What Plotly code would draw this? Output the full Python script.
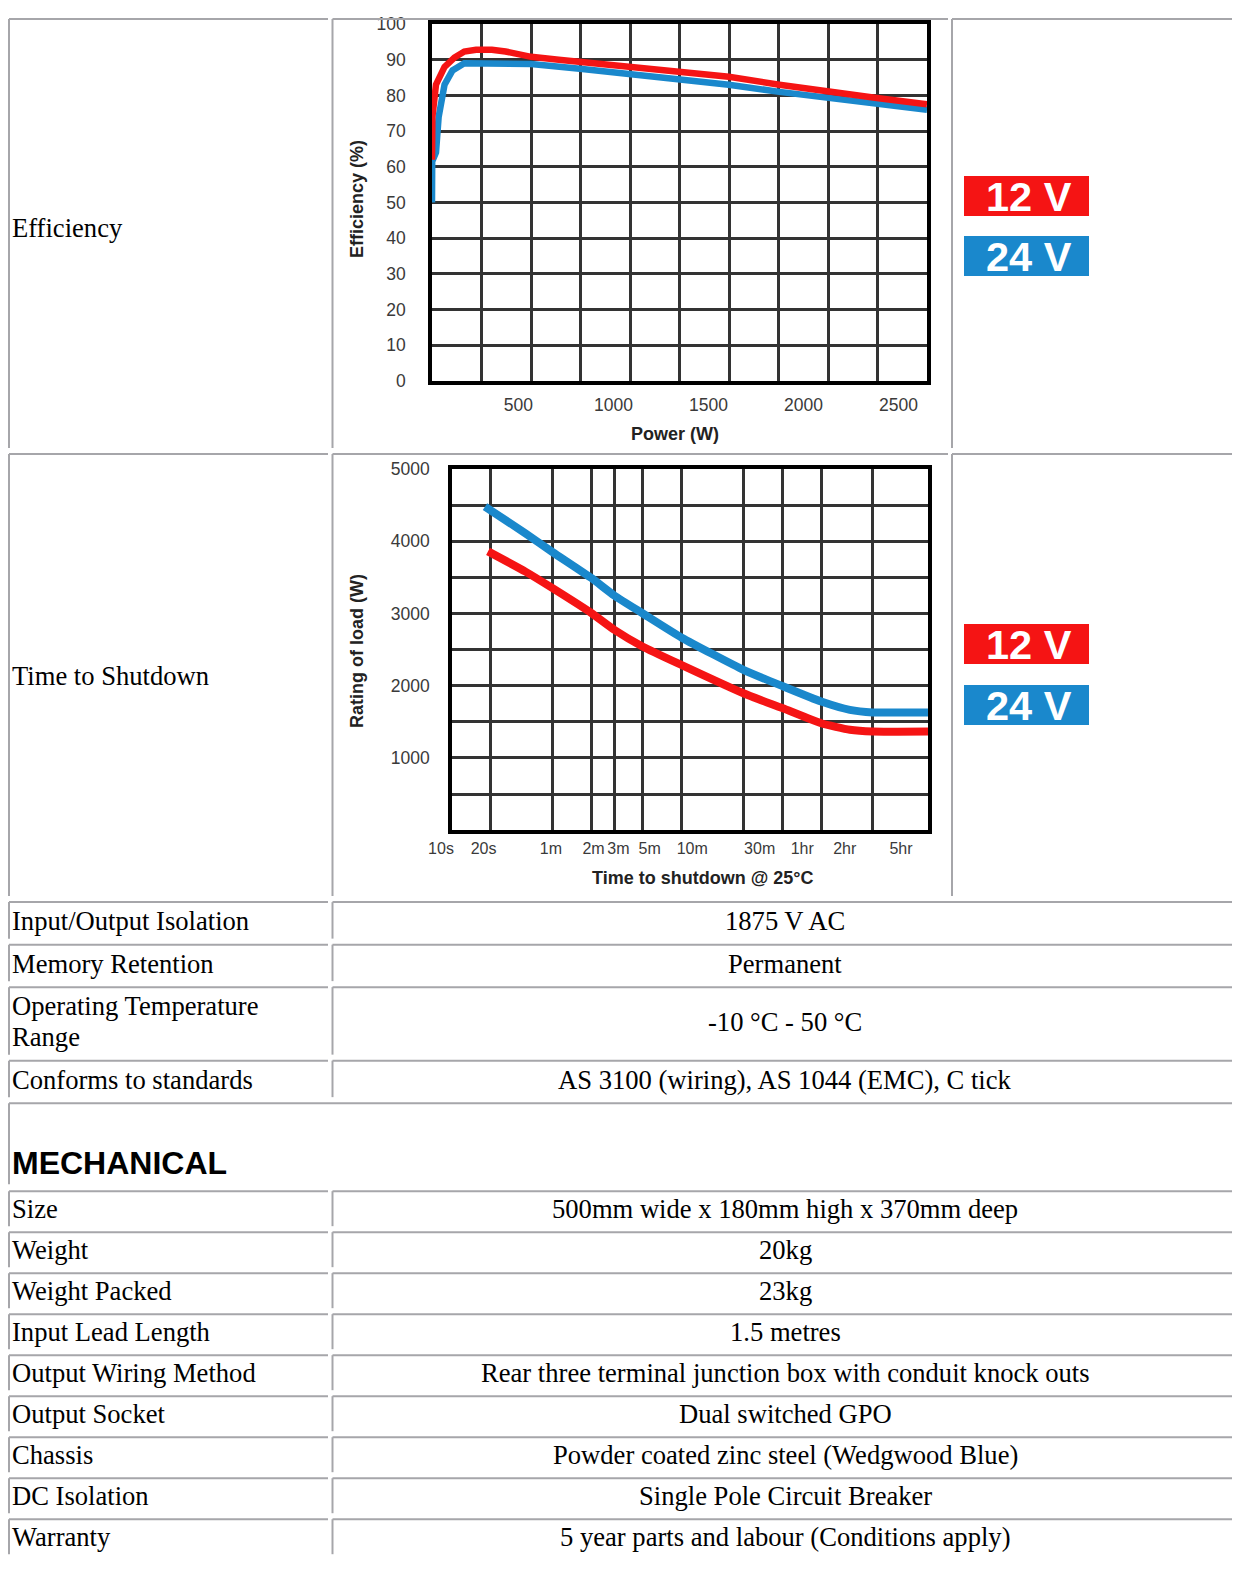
import math
import plotly.graph_objects as go

# Page is 1240x1570; the browser keeps its body margin around the figure.
PAGE_W, PAGE_H = 1240, 1570
OFF = 8
W, H = PAGE_W - 2 * OFF, PAGE_H - 2 * OFF
# measured vertical placement of the figure inside the photographed page
DY, SY = 9.1, 0.987


def px(x):
    return (x - OFF) / W


def py(y):
    nominal = (y - DY) / SY
    return min(1 - (nominal - OFF) / H, 1 - 1.0 / H)


# ---------------- data ----------------
# Efficiency vs power
eff_power_12v = [45, 47, 66, 111, 163, 215, 277, 360, 432, 567, 712, 836, 1006, 1096, 1344, 1607, 1873, 2138, 2386, 2650]
eff_12v = [62, 74, 83, 88, 90.6, 92.3, 92.8, 92.8, 92.3, 90.8, 90.0, 89.3, 88.4, 87.9, 86.6, 85.2, 83.0, 80.9, 79.3, 77.5]
eff_power_24v = [45, 46, 66, 80, 111, 153, 215, 400, 567, 836, 1096, 1344, 1607, 1873, 2138, 2386, 2650]
eff_24v = [50, 61.5, 64, 74, 83, 87, 89, 89, 88.8, 87.4, 86, 84.7, 83, 81, 79.4, 77.6, 76]
power_ticks = [500, 1000, 1500, 2000, 2500]
eff_ticks = [0, 10, 20, 30, 40, 50, 60, 70, 80, 90, 100]

# Time to shutdown (seconds) vs load rating (W)
shut_time_12v = [19, 37, 60, 120, 180, 300, 600, 1800, 3600, 7200, 12000, 18000, 48300]
shut_load_12v = [3860, 3580, 3350, 3005, 2775, 2540, 2285, 1895, 1690, 1480, 1390, 1365, 1365]
shut_time_24v = [18, 37, 60, 120, 180, 300, 600, 1800, 3600, 7200, 12000, 18000, 48300]
shut_load_24v = [4480, 4110, 3850, 3490, 3250, 3000, 2665, 2220, 1995, 1780, 1665, 1630, 1630]
time_tick_seconds = [10, 20, 60, 120, 180, 300, 600, 1800, 3600, 7200, 18000]
time_tick_labels = ["10s", "20s", "1m", "2m", "3m", "5m", "10m", "30m", "1hr", "2hr", "5hr"]
load_ticks = [1000, 2000, 3000, 4000, 5000]

series_names = ["12 V", "24 V"]

# Table text
chart_row_labels = ["Efficiency", "Time to Shutdown"]
spec_labels = ["Input/Output Isolation", "Memory Retention", "Operating Temperature<br>Range", "Conforms to standards"]
spec_values = ["1875 V AC", "Permanent", "-10 °C - 50 °C", "AS 3100 (wiring), AS 1044 (EMC), C tick"]
section_title = "MECHANICAL"
mech_labels = ["Size", "Weight", "Weight Packed", "Input Lead Length", "Output Wiring Method",
               "Output Socket", "Chassis", "DC Isolation", "Warranty"]
mech_values = ["500mm wide x 180mm high x 370mm deep", "20kg", "23kg", "1.5 metres",
               "Rear three terminal junction box with conduit knock outs", "Dual switched GPO",
               "Powder coated zinc steel (Wedgwood Blue)", "Single Pole Circuit Breaker",
               "5 year parts and labour (Conditions apply)"]

# ---------------- styles ----------------
RED = "#f51414"
BLUE = "#1a88cc"
GRID = "#333333"
BORDER = "#a6a6aa"
SERIF = "Liberation Serif"
SANS = "Liberation Sans"
TICKFONT = dict(family=SANS, size=17.5, color="#3a3a3a")
TIMEFONT = dict(family=SANS, size=16, color="#3a3a3a")
TITLEFONT = dict(family=SANS, size=18, color="#222222")

fig = go.Figure()
# Efficiency chart
fig.add_trace(go.Scatter(x=eff_power_24v, y=eff_24v, mode="lines", name=series_names[1],
                         line=dict(color=BLUE, width=6.5), xaxis="x", yaxis="y", showlegend=False))
fig.add_trace(go.Scatter(x=eff_power_12v, y=eff_12v, mode="lines", name=series_names[0],
                         line=dict(color=RED, width=6.5), xaxis="x", yaxis="y", showlegend=False))
# Shutdown chart
fig.add_trace(go.Scatter(x=shut_time_24v, y=shut_load_24v, mode="lines", name=series_names[1],
                         line=dict(color=BLUE, width=8, shape="spline", smoothing=0.5),
                         xaxis="x2", yaxis="y2", showlegend=False))
fig.add_trace(go.Scatter(x=shut_time_12v, y=shut_load_12v, mode="lines", name=series_names[0],
                         line=dict(color=RED, width=8, shape="spline", smoothing=0.5),
                         xaxis="x2", yaxis="y2", showlegend=False))
# empty trace that carries the printed time-label axis of the shutdown chart
fig.add_trace(go.Scatter(x=[], y=[], mode="lines", xaxis="x3", yaxis="y3", showlegend=False,
                         hoverinfo="skip"))

frame = dict(showline=True, mirror=True, linecolor="black", linewidth=3.5, zeroline=False,
             tickfont=TICKFONT, ticks="", fixedrange=True, tickangle=0)

x1_min, x1_max = 45, 2650
# time axis: the grid spans 10 s .. ~13.4 h, the printed labels sit on a slightly wider log scale
grid_range = [1.0, 4.684]
lab_left_px, lab_right_px = 425, 928
lab_px_per_decade = 141.3
lab_first_px = 441
lab_range = [math.log10(time_tick_seconds[0]) - (lab_first_px - lab_left_px) / lab_px_per_decade]
lab_range.append(lab_range[0] + (lab_right_px - lab_left_px) / lab_px_per_decade)

fig.update_layout(
    xaxis=dict(domain=[px(432), px(927)], range=[x1_min, x1_max], tickmode="array", tickvals=power_ticks,
               showgrid=False, anchor="y", ticklabelstandoff=5,
               minor=dict(tickmode="linear", tick0=x1_min, dtick=(x1_max - x1_min) / 10,
                          showgrid=True, gridcolor=GRID, gridwidth=2.5, ticks=""),
               **frame),
    yaxis=dict(domain=[py(380), py(23)], range=[0, 100], tickmode="array", tickvals=eff_ticks,
               showgrid=True, gridcolor=GRID, gridwidth=2.5, anchor="x", ticklabelstandoff=19, **frame),
    xaxis2=dict(domain=[px(452), px(928)], type="log", range=grid_range, tickmode="array",
                tickvals=time_tick_seconds, showticklabels=False, showgrid=True, gridcolor=GRID,
                gridwidth=2.5, anchor="y2", **frame),
    yaxis2=dict(domain=[py(829), py(468)], range=[0, 5000], tickmode="array", tickvals=load_ticks,
                showgrid=True, gridcolor=GRID, gridwidth=2.5, anchor="x2", ticklabelstandoff=15,
                minor=dict(tickmode="linear", tick0=0, dtick=500, showgrid=True, gridcolor=GRID,
                           gridwidth=2.5, ticks=""),
                **frame),
    xaxis3=dict(domain=[px(lab_left_px), px(lab_right_px)], type="log", range=lab_range, tickmode="array",
                tickvals=time_tick_seconds, ticktext=time_tick_labels, showgrid=False, showline=False,
                zeroline=False, ticks="", tickangle=0, tickfont=TIMEFONT, anchor="y3",
                ticklabelstandoff=7, fixedrange=True),
    yaxis3=dict(domain=[py(829), py(828)], anchor="x3", visible=False, range=[0, 1], fixedrange=True),
)

annotations = []
shapes = []

# axis titles
annotations += [
    dict(text="<b>Efficiency (%)</b>", x=px(357), y=py(198), textangle=-90, font=TITLEFONT),
    dict(text="<b>Power (W)</b>", x=px(675), y=py(433), font=TITLEFONT),
    dict(text="<b>Rating of load (W)</b>", x=px(357), y=py(650), textangle=-90, font=TITLEFONT),
    dict(text="<b>Time to shutdown @ 25°C</b>", x=px(702), y=py(877), font=TITLEFONT),
]

# legend badges next to each chart
badge_centers = [(195, 255), (643, 704)]
for c12, c24 in badge_centers:
    for cy, color, name in [(c12, RED, series_names[0]), (c24, BLUE, series_names[1])]:
        shapes.append(dict(type="rect", xref="paper", yref="paper", x0=px(964), x1=px(1089),
                           y0=py(cy + 20), y1=py(cy - 20), fillcolor=color, line=dict(width=0),
                           layer="above"))
        annotations.append(dict(text="<b>%s</b>" % name, x=px(1029), y=py(cy), 
                                font=dict(family=SANS, size=41.5, color="white")))


def cell(x0, x1, top, bottom):
    x0 = max(x0, OFF + 1)
    shapes.append(dict(type="line", xref="paper", yref="paper", x0=px(x0), x1=px(x1), y0=py(top), y1=py(top),
                       line=dict(color=BORDER, width=2)))
    shapes.append(dict(type="line", xref="paper", yref="paper", x0=px(x0), x1=px(x0), y0=py(top), y1=py(bottom),
                       line=dict(color=BORDER, width=2)))


C1 = (7.5, 328)
C2_chart = (332.5, 948)
C3 = (952, 1238)
C2 = (332.5, 1238)
LABEL_X = 10
VALUE_X = 785
TEXTFONT = dict(family=SERIF, size=26.6, color="black")

# chart rows
chart_tops = [5, 453, 901]
for i, lab in enumerate(chart_row_labels):
    t, nt = chart_tops[i], chart_tops[i + 1]
    for c in (C1, C2_chart, C3):
        cell(c[0], c[1], t, nt - 6)
    annotations.append(dict(text=lab, x=px(LABEL_X), y=py((t + nt) / 2 - 2), xanchor="left", font=TEXTFONT))

# spec rows
ROW = 42.5
LINE = 31
top = 901
for lab, val in zip(spec_labels, spec_values):
    lines = lab.split("<br>")
    h = ROW + LINE * (len(lines) - 1)
    for c in (C1, C2):
        cell(c[0], c[1], top, top + h - 6)
    for k, ln in enumerate(lines):
        annotations.append(dict(text=ln, x=px(LABEL_X), y=py(top + 19 + LINE * k), xanchor="left", font=TEXTFONT))
    annotations.append(dict(text=val, x=px(VALUE_X), y=py(top + 19 + LINE * (len(lines) - 1) / 2), font=TEXTFONT))
    top += h

# section header
top = 1102
cell(7.5, 1238, top, top + 81)
annotations.append(dict(text="<b>%s</b>" % section_title, x=px(LABEL_X), y=py(top + 60), xanchor="left",
                        font=dict(family=SANS, size=32, color="black")))
# mechanical rows: slightly tighter than the reference so the last row stays inside the canvas
top = 1190
MROW = 41.0
for lab, val in zip(mech_labels, mech_values):
    for c in (C1, C2):
        cell(c[0], c[1], top, top + MROW - 6)
    annotations.append(dict(text=lab, x=px(LABEL_X), y=py(top + 18), xanchor="left", font=TEXTFONT))
    annotations.append(dict(text=val, x=px(VALUE_X), y=py(top + 18), font=TEXTFONT))
    top += MROW

for a in annotations:
    a.setdefault("xref", "paper")
    a.setdefault("yref", "paper")
    a.setdefault("showarrow", False)
    a.setdefault("xanchor", "center")
    a.setdefault("yanchor", "middle")

fig.update_layout(
    width=W, height=H, autosize=False,
    margin=dict(l=0, r=0, t=0, b=0, pad=0),
    paper_bgcolor="white", plot_bgcolor="rgba(0,0,0,0)",
    annotations=annotations, shapes=shapes,
    showlegend=False,
)

fig.write_html("out.html", config={"displayModeBar": False})
